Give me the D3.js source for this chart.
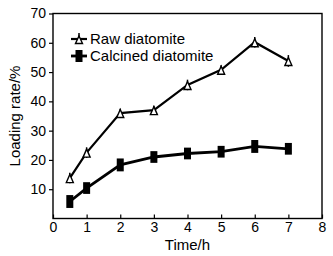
<!DOCTYPE html>
<html>
<head>
<meta charset="utf-8">
<script src="https://cdn.jsdelivr.net/npm/d3@7"></script>
<style>
  body { margin: 0; background: #fff; }
  text { font-family: "Liberation Sans", Arial, sans-serif; fill: #000; }
</style>
</head>
<body>
<div id="chart"></div>
<script>
const times = [0.5, 1, 2, 3, 4, 5, 6, 7];
const rawValues = [13.8, 22.5, 36, 37, 45.6, 50.8, 60.2, 53.8];
const rawErrors = [1.8, 1.8, 1.5, 1.5, 1.8, 1.5, 1.8, 2];
const calcinedValues = [5.8, 10.4, 18.3, 21, 22.2, 22.8, 24.6, 23.8];
const calcinedErrors = [2.2, 2, 2.2, 2, 2, 2, 2.2, 2];
const xTicks = [0, 1, 2, 3, 4, 5, 6, 7, 8];
const yTicks = [10, 20, 30, 40, 50, 60, 70];

const config = {
  width: 333,
  height: 256,
  margin: { top: 13.5, right: 11, bottom: 37.5, left: 53 },
};
const innerW = config.width - config.margin.left - config.margin.right;
const innerH = config.height - config.margin.top - config.margin.bottom;

const svg = d3
  .select("#chart")
  .append("svg")
  .attr("width", config.width)
  .attr("height", config.height);

const g = svg
  .append("g")
  .attr("transform", `translate(${config.margin.left},${config.margin.top})`);

const x = d3.scaleLinear().domain([0, 8]).range([0, innerW]);
const y = d3.scaleLinear().domain([0, 70]).range([innerH, 0]);

// frame
g.append("rect")
  .attr("width", innerW)
  .attr("height", innerH)
  .attr("fill", "none")
  .attr("stroke", "#000")
  .attr("stroke-width", 1.4);

// x axis, ticks pointing inward
const xAxis = g
  .append("g")
  .attr("transform", `translate(0,${innerH})`)
  .call(d3.axisBottom(x).tickValues(xTicks).tickSizeInner(-4).tickSizeOuter(0).tickPadding(4));
xAxis.select(".domain").remove();
xAxis.selectAll(".tick line").attr("stroke-width", 1.2);
xAxis.selectAll(".tick text").style("font-size", "14px");

// y axis, ticks pointing outward
const yAxis = g
  .append("g")
  .call(d3.axisLeft(y).tickValues(yTicks).tickSizeInner(4).tickSizeOuter(0).tickPadding(3));
yAxis.select(".domain").remove();
yAxis.selectAll(".tick line").attr("stroke-width", 1.2);
yAxis.selectAll(".tick text").style("font-size", "14px");

// axis labels
svg.append("text")
  .attr("x", config.margin.left + innerW / 2)
  .attr("y", 250)
  .attr("text-anchor", "middle")
  .style("font-size", "15px")
  .text("Time/h");

svg.append("text")
  .attr("transform", `translate(20,${config.margin.top + innerH / 2}) rotate(-90)`)
  .attr("text-anchor", "middle")
  .style("font-size", "15px")
  .text("Loading rate/%");

const line = d3.line().x((d) => x(d[0])).y((d) => y(d[1]));

function drawSeries(values, errors, kind) {
  const pts = times.map((t, i) => [t, values[i], errors[i]]);
  g.append("path")
    .datum(pts)
    .attr("d", line)
    .attr("fill", "none")
    .attr("stroke", "#000")
    .attr("stroke-width", kind === "tri" ? 2.2 : 2.8);

  if (kind === "tri") {
    g.selectAll(null)
      .data(pts)
      .join("line")
      .attr("x1", (d) => x(d[0]))
      .attr("x2", (d) => x(d[0]))
      .attr("y1", (d) => y(d[1] + d[2]))
      .attr("y2", (d) => y(d[1] - d[2]))
      .attr("stroke", "#000")
      .attr("stroke-width", 1.5);
    g.selectAll(null)
      .data(pts)
      .join("path")
      .attr("transform", (d) => `translate(${x(d[0])},${y(d[1]) + 1})`)
      .attr("d", "M0,-4.5L3.5,3.5L-3.5,3.5Z")
      .attr("fill", "#fff")
      .attr("stroke", "#000")
      .attr("stroke-width", 1.4);
  } else {
    g.selectAll(null)
      .data(pts)
      .join("rect")
      .attr("x", (d) => x(d[0]) - 3.5)
      .attr("y", (d) => y(d[1] + d[2]))
      .attr("width", 7)
      .attr("height", (d) => y(d[1] - d[2]) - y(d[1] + d[2]))
      .attr("fill", "#000");
  }
}

drawSeries(rawValues, rawErrors, "tri");
drawSeries(calcinedValues, calcinedErrors, "sq");

// legend
const legend = svg.append("g");
const legendItems = [
  { label: "Raw diatomite", kind: "tri", cy: 39 },
  { label: "Calcined diatomite", kind: "sq", cy: 56 },
];
legendItems.forEach((item) => {
  legend.append("line")
    .attr("x1", 71).attr("x2", 87)
    .attr("y1", item.cy).attr("y2", item.cy)
    .attr("stroke", "#000")
    .attr("stroke-width", item.kind === "tri" ? 2.2 : 2.8);
  if (item.kind === "tri") {
    legend.append("line")
      .attr("x1", 79).attr("x2", 79)
      .attr("y1", item.cy - 6).attr("y2", item.cy + 5)
      .attr("stroke", "#000").attr("stroke-width", 1.5);
    legend.append("path")
      .attr("transform", `translate(79,${item.cy + 1})`)
      .attr("d", "M0,-4L3.5,3.5L-3.5,3.5Z")
      .attr("fill", "#fff")
      .attr("stroke", "#000")
      .attr("stroke-width", 1.4);
  } else {
    legend.append("rect")
      .attr("x", 75.5).attr("y", item.cy - 6)
      .attr("width", 7).attr("height", 12)
      .attr("fill", "#000");
  }
  legend.append("text")
    .attr("x", 90)
    .attr("y", item.cy + 5)
    .style("font-size", "15px")
    .text(item.label);
});
</script>
</body>
</html>
